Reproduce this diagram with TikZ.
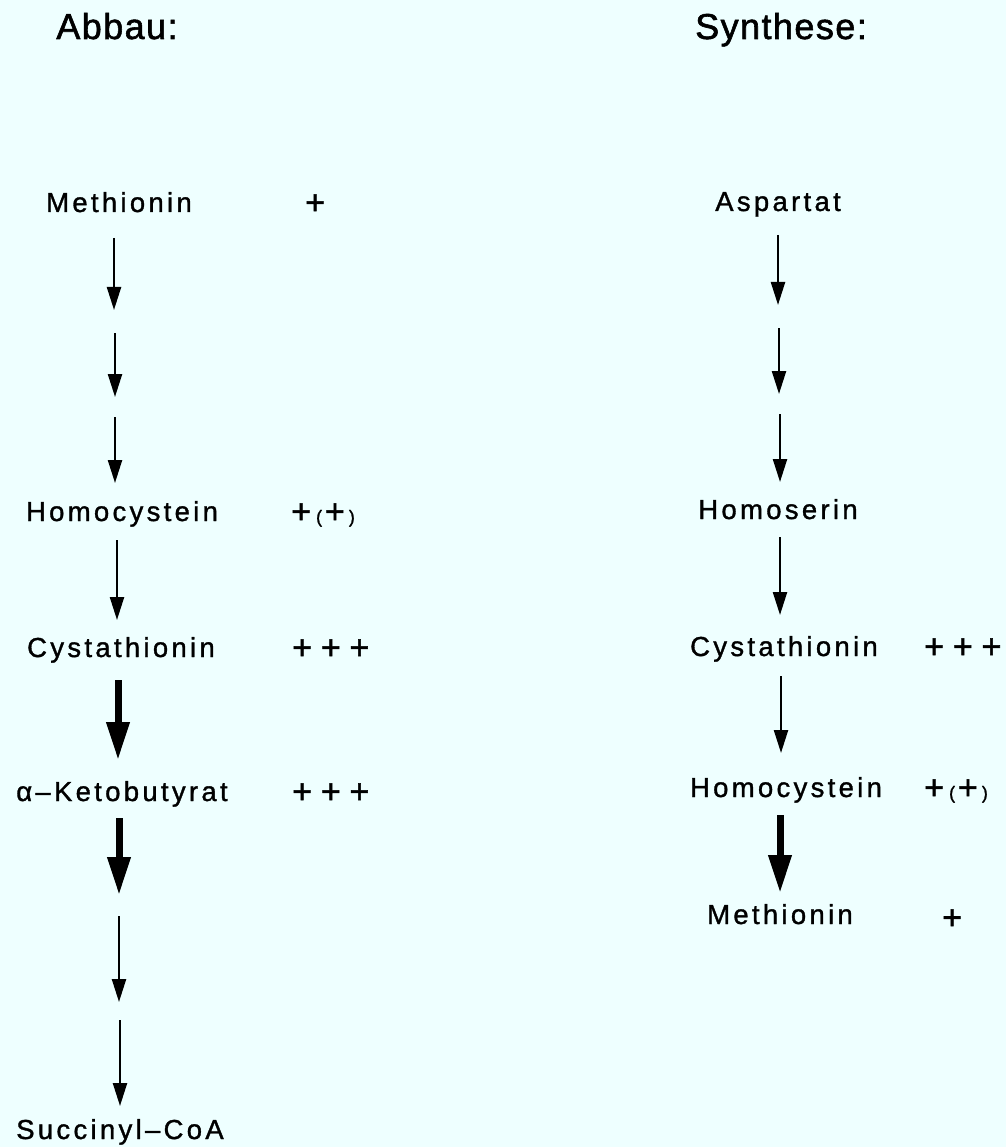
\documentclass[tikz,border=0pt]{standalone}
\usepackage{fontspec}
\setmainfont{Liberation Sans}
\usetikzlibrary{arrows.meta}
\definecolor{bgcyan}{RGB}{238,255,255}
\tikzset{
  stoff/.style={anchor=base, inner sep=0pt, font=\fontsize{27.5}{30}\selectfont\addfontfeature{LetterSpace=12,FakeBold=1.2}},
  kopf/.style={anchor=base, inner sep=0pt, font=\fontsize{36}{40}\selectfont\addfontfeature{LetterSpace=4,FakeBold=1.6}},
  plus/.style={anchor=base west, inner sep=0pt, font=\fontsize{34}{38}\selectfont\addfontfeature{LetterSpace=26,FakeBold=1.5}},
  duenn/.style={line width=2.3pt, -{Triangle[length=23pt,width=14pt]}},
  dick/.style={line width=7pt, -{Triangle[length=38pt,width=22pt]}},
}
\newcommand{\klammer}[1]{{\fontsize{18}{20}\selectfont#1}}
\newcommand{\plusklammer}{+\kern5pt\klammer{(}\kern3pt+\kern4pt\klammer{)}}
\begin{document}
\begin{tikzpicture}[x=1pt, y=-1pt]
  \fill[bgcyan] (0,0) rectangle (1006,1147);
  \useasboundingbox (0,0) rectangle (1006,1147);

  \node[kopf] (Abbau) at (117,39) {Abbau:};
  \node[kopf] (Synthese) at (781,39) {Synthese:};

  \node[stoff] (MetA) at (119,212) {Methionin};
  \node[stoff] (HcyA) at (122,521) {Homocystein};
  \node[stoff] (CysA) at (121,657) {Cystathionin};
  \node[stoff] (KetA) at (122,801) {α–Ketobutyrat};
  \node[stoff] (SucA) at (120,1139) {Succinyl–CoA};

  \node[plus] (pMetA) at (305,214) {+};
  \node[plus] (pHcyA) at (291,523) {\plusklammer};
  \node[plus] (pCysA) at (292,659) {+++};
  \node[plus] (pKetA) at (292,803) {+++};

  \node[stoff] (AspS) at (778,211) {Aspartat};
  \node[stoff] (HseS) at (778,519) {Homoserin};
  \node[stoff] (CysS) at (784,656) {Cystathionin};
  \node[stoff] (HcyS) at (786,797) {Homocystein};
  \node[stoff] (MetS) at (780,924) {Methionin};

  \node[plus] (pCysS) at (924,658) {+++};
  \node[plus] (pHcyS) at (924,799) {\plusklammer};
  \node[plus] (pMetS) at (942,929) {+};

  \foreach \n/\x/\a/\b/\s in {
      a1/114/238/310/duenn, a2/115/333/397/duenn, a3/115/417/483/duenn,
      a4/117/540/620/duenn, a5/118/680/760/dick, a6/119/818/895/dick,
      a7/119/916/1002/duenn, a8/120/1020/1106/duenn,
      s1/778/235/305/duenn, s2/779/328/394/duenn, s3/780/414/482/duenn,
      s4/780/537/615/duenn, s5/781/676/753/duenn, s6/780/815/893/dick} {
    \coordinate (\n o) at (\x,\a);
    \coordinate (\n u) at (\x,\b);
    \draw[\s] (\n o) -- (\n u);
  }
\end{tikzpicture}
\end{document}
